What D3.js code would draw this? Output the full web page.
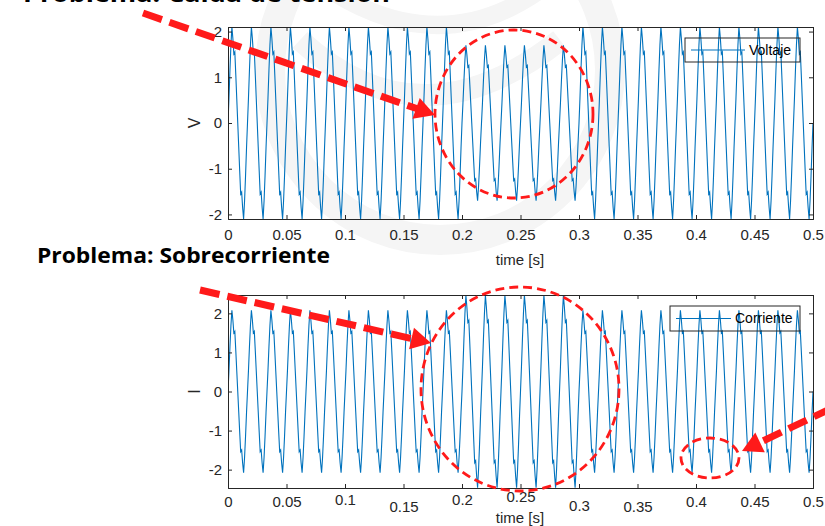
<!DOCTYPE html>
<html>
<head>
<meta charset="utf-8">
<title>Voltaje y Corriente</title>
<script src="https://d3js.org/d3.v7.min.js"></script>
<style>
  body { margin: 0; background: #fff; }
  .axis text { font: 15px "Liberation Sans", Arial, sans-serif; fill: #262626; }
  .axis path, .axis line { stroke: #262626; stroke-width: 1px; }
  .wave { fill: none; stroke: #0072bd; stroke-width: 1.1px; }
  .lbl { font-family: "Liberation Sans", Arial, sans-serif; fill: #262626; }
</style>
</head>
<body>
<div id="chart"></div>
<script>
// ticks
const xTicks = [0, 0.05, 0.1, 0.15, 0.2, 0.25, 0.3, 0.35, 0.4, 0.45, 0.5];
const vTicks = [-2, -1, 0, 1, 2];
const iTicks = [-2, -1, 0, 1, 2];

const cycleShape = [0, 0.26, 0.55, 0.81, 1, 0.88, 0.72, 0.74, 0.50, 0.25,
                    0, -0.25, -0.50, -0.74, -0.72, -0.88, -1, -0.81, -0.55, -0.26];
const freq = 60;

// peak of each of the 30 cycles (0 - 0.5 s)
const vPeaks = [2.1, 2.1, 2.1, 2.1, 2.1, 2.1, 2.1, 2.1, 2.1, 2.1, 2.1, 2.1,
                1.7, 1.7, 1.7, 1.7, 1.7, 1.7,
                2.1, 2.1, 2.1, 2.1, 2.1, 2.1, 2.1, 2.1, 2.1, 2.1, 2.1, 2.1];
const iPeaks = [2.08, 2.08, 2.08, 2.08, 2.08, 2.08, 2.08, 2.08, 2.08, 2.08, 2.08, 2.08,
                2.46, 2.46, 2.46, 2.46, 2.46, 2.46,
                2.08, 2.08, 2.08, 2.08, 2.08, 2.08, 2.08, 2.08, 2.08, 2.08, 2.08, 2.08];

function buildSeries(peaks) {
    let n = cycleShape.length;
    let pts = [];
    peaks.forEach(function(pk, c) {
        cycleShape.forEach(function(s, k) {
            pts.push([(c * n + k) / (freq * n), pk * s]);
        });
    });
    pts.push([peaks.length / freq, 0]);
    return pts;
}

const W = 825, H = 526;
let svg = d3.select("#chart").append("svg")
    .attr("width", W).attr("height", H);

// faint background watermark
let wm = svg.append("g").attr("fill", "none").attr("stroke", "#f5f5f5");
wm.append("circle").attr("cx", 440).attr("cy", 70).attr("r", 170).attr("stroke-width", 30);
wm.append("path").attr("d", "M300,40 Q420,150 560,40").attr("stroke-width", 22);
wm.append("path").attr("d", "M330,-10 Q440,60 540,-10").attr("stroke-width", 18);

function fmt(d) { return String(d); }

function render(cfg) {
    let x = d3.scaleLinear().domain([0, 0.5]).range([228, 813]);
    let y = d3.scaleLinear().domain(cfg.yDomain).range([cfg.bottom, cfg.top]);

    let clipId = "clip-" + cfg.name;
    svg.append("clipPath").attr("id", clipId)
       .append("rect")
       .attr("x", 228).attr("y", cfg.top)
       .attr("width", 585).attr("height", cfg.bottom - cfg.top);

    let line = d3.line()
        .x(function(d) { return x(d[0]); })
        .y(function(d) { return y(d[1]); });

    svg.append("path")
       .datum(cfg.data)
       .attr("class", "wave")
       .attr("clip-path", "url(#" + clipId + ")")
       .attr("d", line);

    // axes, ticks inward like MATLAB
    let xb = svg.append("g").attr("class", "axis")
       .attr("transform", "translate(0," + cfg.bottom + ")")
       .call(d3.axisBottom(x).tickValues(xTicks).tickSize(-4).tickPadding(cfg.xPad)
             .tickFormat(fmt));
    if (cfg.labelShift) {
        xb.selectAll(".tick text").attr("transform", function(d, i) {
            return "translate(0," + cfg.labelShift[i] + ")";
        });
    }
    svg.append("g").attr("class", "axis")
       .attr("transform", "translate(0," + cfg.top + ")")
       .call(d3.axisTop(x).tickValues(xTicks).tickSize(-4).tickFormat(""))
       .selectAll("text").remove();
    svg.append("g").attr("class", "axis")
       .attr("transform", "translate(228,0)")
       .call(d3.axisLeft(y).tickValues(cfg.yTicks).tickSize(-4).tickPadding(6)
             .tickFormat(fmt));
    svg.append("g").attr("class", "axis")
       .attr("transform", "translate(813,0)")
       .call(d3.axisRight(y).tickValues(cfg.yTicks).tickSize(-4).tickFormat(""))
       .selectAll("text").remove();

    // axis titles
    svg.append("text").attr("class", "lbl")
       .attr("transform", "translate(194," + y(0) + ") rotate(-90)")
       .attr("text-anchor", "middle").attr("dy", "0.35em")
       .attr("font-size", "16px")
       .text(cfg.ylabel);
    svg.append("text").attr("class", "lbl")
       .attr("x", 520).attr("y", cfg.xlabelY)
       .attr("text-anchor", "middle").attr("dy", "0.35em")
       .attr("font-size", "15px")
       .text("time [s]");

    // legend (transparent box)
    let lg = cfg.legend;
    svg.append("rect")
       .attr("x", lg.x).attr("y", lg.y).attr("width", lg.w).attr("height", lg.h)
       .attr("fill", "none").attr("stroke", "#262626").attr("stroke-width", 1);
    svg.append("line")
       .attr("x1", lg.x + 6).attr("x2", lg.x + 6 + lg.lineW)
       .attr("y1", lg.y + lg.h / 2).attr("y2", lg.y + lg.h / 2)
       .attr("stroke", "#0072bd").attr("stroke-width", 1.1);
    svg.append("text")
       .attr("x", lg.x + 10 + lg.lineW).attr("y", lg.y + lg.h / 2)
       .attr("dy", "0.35em")
       .attr("font-family", "Liberation Sans, Arial, sans-serif")
       .attr("font-size", "14px").attr("fill", "#000")
       .text(cfg.name);
}

render({
    name: "Voltaje", data: buildSeries(vPeaks),
    top: 27, bottom: 219, yDomain: [-2.1, 2.1], yTicks: vTicks,
    ylabel: "V", xPad: 10, xlabelY: 260,
    legend: {x: 685, y: 38, w: 115, h: 24, lineW: 54}
});

render({
    name: "Corriente", data: buildSeries(iPeaks),
    top: 295, bottom: 488, yDomain: [-2.47, 2.47], yTicks: iTicks,
    ylabel: "I", xPad: 8, xlabelY: 518,
    labelShift: [0, 0, -2, 5, -2, -5, 4.5, 5, 0, 0, 0],
    legend: {x: 670, y: 306, w: 130, h: 25, lineW: 55}
});

// red annotations
let red = "#ff1a1a";

function arrow(x1, y1, x2, y2) {
    let dx = x2 - x1, dy = y2 - y1;
    let len = Math.sqrt(dx * dx + dy * dy);
    let ux = dx / len, uy = dy / len;
    let headL = 20, headW = 11;
    let bx = x2 - ux * headL, by = y2 - uy * headL;
    svg.append("line")
       .attr("x1", x1).attr("y1", y1).attr("x2", bx + ux * 2).attr("y2", by + uy * 2)
       .attr("stroke", red).attr("stroke-width", 7)
       .attr("stroke-dasharray", "20,8");
    svg.append("polygon")
       .attr("points", [[x2, y2], [bx - uy * headW, by + ux * headW], [bx + uy * headW, by - ux * headW]]
             .map(function(p) { return p.join(","); }).join(" "))
       .attr("fill", red);
}

function ring(cx, cy, rx, ry) {
    svg.append("ellipse")
       .attr("cx", cx).attr("cy", cy).attr("rx", rx).attr("ry", ry)
       .attr("fill", "none").attr("stroke", red).attr("stroke-width", 2.8)
       .attr("stroke-dasharray", "9,5");
}

ring(514, 114, 79, 84);
ring(520, 389, 99, 102);
ring(710, 458, 29, 20);

arrow(143, 13, 435, 115);
arrow(200, 290, 431, 343);
arrow(832, 408, 742, 451);

// heading cropped off at the very top of the screenshot
svg.append("text")
   .attr("x", 23).attr("y", 2)
   .attr("font-family", "Open Sans, sans-serif").attr("font-weight", "bold")
   .attr("font-size", "24px").attr("fill", "#000")
   .attr("textLength", 367).attr("lengthAdjust", "spacingAndGlyphs")
   .text("Problema: Caída de tensión");

svg.append("text")
   .attr("x", 37).attr("y", 263)
   .attr("font-family", "Open Sans, sans-serif").attr("font-weight", "bold")
   .attr("font-size", "22px").attr("fill", "#000")
   .attr("textLength", 293).attr("lengthAdjust", "spacingAndGlyphs")
   .text("Problema: Sobrecorriente");
</script>
</body>
</html>
